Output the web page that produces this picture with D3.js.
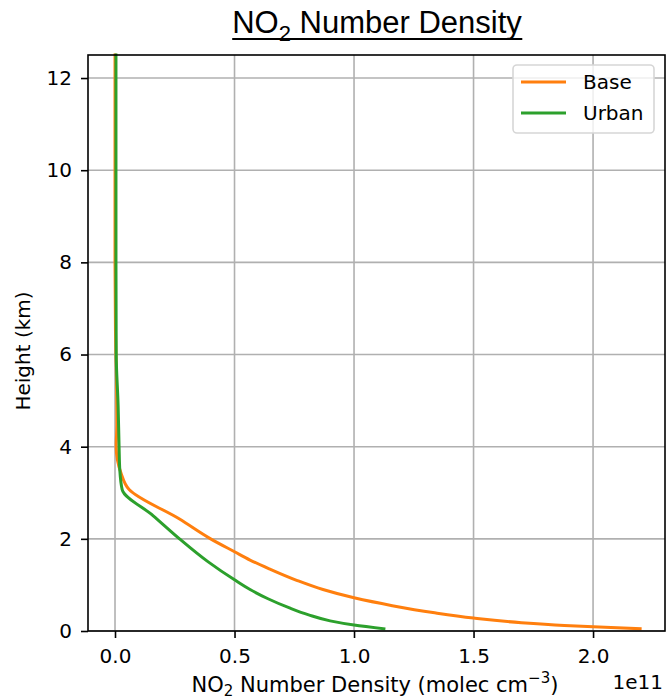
<!DOCTYPE html>
<html>
<head>
<meta charset="utf-8">
<script src="https://cdn.jsdelivr.net/npm/d3@7"></script>
<style>
body { margin: 0; background: #fff; }
text { font-family: "DejaVu Sans", sans-serif; }
</style>
</head>
<body>
<script>
// heights in km, number density in units of 1e11 molec cm-3
var baseHeight = [0.05, 0.08, 0.12, 0.18, 0.28, 0.40, 0.55, 0.72, 0.90, 1.10, 1.35, 1.54, 1.72, 2.0, 2.43, 3.07, 3.43, 4.0, 4.5, 5.5, 6.5, 8.0, 10.0, 12.5];
var baseValue  = [2.197, 2.05, 1.88, 1.70, 1.50, 1.33, 1.16, 1.00, 0.87, 0.76, 0.645, 0.565, 0.50, 0.40, 0.27, 0.059, 0.025, 0.005, 0.008, 0.006, 0.002, 0.0, 0.0, 0.0];

var urbanHeight = [0.05, 0.13, 0.22, 0.35, 0.50, 0.70, 0.90, 1.11, 1.5, 2.0, 2.5, 3.07, 3.5, 4.0, 4.9, 6.0, 8.0, 10.0, 12.5];
var urbanValue  = [1.125, 1.0, 0.90, 0.81, 0.73, 0.64, 0.565, 0.5, 0.39, 0.27, 0.16, 0.03, 0.02, 0.017, 0.013, 0.005, 0.004, 0.004, 0.004];

var seriesNames = ["Base", "Urban"];
var xTicks = [0.0, 0.5, 1.0, 1.5, 2.0];
var yTicks = [0, 2, 4, 6, 8, 10, 12];

var width = 666, height = 699;
// plot box (window.top is reserved, so use m* names)
var mLeft = 88, mRight = 665, mTop = 55, mBottom = 631;
var colors = {Base: "#ff7f0e", Urban: "#2ca02c"};

var svg = d3.select("body").append("svg")
    .attr("width", width)
    .attr("height", height);

var x = d3.scaleLinear().domain([-0.113, 2.301]).range([mLeft, mRight]);
var y = d3.scaleLinear().domain([0, 12.5]).range([mBottom, mTop]);

// grid
svg.append("g").selectAll("line")
    .data(xTicks).enter().append("line")
    .attr("x1", function(d) { return x(d); })
    .attr("x2", function(d) { return x(d); })
    .attr("y1", mTop).attr("y2", mBottom)
    .attr("stroke", "#b0b0b0").attr("stroke-width", 1.6);
svg.append("g").selectAll("line")
    .data(yTicks).enter().append("line")
    .attr("y1", function(d) { return y(d); })
    .attr("y2", function(d) { return y(d); })
    .attr("x1", mLeft).attr("x2", mRight)
    .attr("stroke", "#b0b0b0").attr("stroke-width", 1.6);

// profiles
var line = d3.line()
    .x(function(d) { return x(d[1]); })
    .y(function(d) { return y(d[0]); })
    .curve(d3.curveMonotoneY);

var series = [
    {name: "Base", pts: d3.zip(baseHeight, baseValue)},
    {name: "Urban", pts: d3.zip(urbanHeight, urbanValue)}
];

svg.selectAll(".profile")
    .data(series).enter().append("path")
    .attr("class", "profile")
    .attr("d", function(d) { return line(d.pts); })
    .attr("fill", "none")
    .attr("stroke", function(d) { return colors[d.name]; })
    .attr("stroke-width", 3)
    .attr("stroke-linejoin", "round")
    .attr("stroke-linecap", "square");

// axes
var xAxis = d3.axisBottom(x)
    .tickValues(xTicks)
    .tickFormat(d3.format(".1f"))
    .tickSize(7).tickSizeOuter(0).tickPadding(11);
var yAxis = d3.axisLeft(y)
    .tickValues(yTicks)
    .tickSize(7).tickSizeOuter(0).tickPadding(9);

var gx = svg.append("g").attr("transform", "translate(0," + mBottom + ")").call(xAxis);
var gy = svg.append("g").attr("transform", "translate(" + mLeft + ",0)").call(yAxis);
[gx, gy].forEach(function(g) {
    g.select(".domain").remove();
    g.selectAll(".tick line").attr("stroke", "#000").attr("stroke-width", 1.6);
    g.selectAll(".tick text")
        .attr("fill", "#000")
        .style("font-family", "DejaVu Sans")
        .style("font-size", "20px");
});

// spines
svg.append("rect")
    .attr("x", mLeft).attr("y", mTop)
    .attr("width", mRight - mLeft).attr("height", mBottom - mTop)
    .attr("fill", "none").attr("stroke", "#000").attr("stroke-width", 1.6);

// legend
var lg = svg.append("g");
lg.append("rect")
    .attr("x", 513).attr("y", 65).attr("width", 141).attr("height", 68)
    .attr("rx", 4)
    .attr("fill", "#fff").attr("fill-opacity", 0.8)
    .attr("stroke", "#d6d6d6").attr("stroke-width", 1.6);
seriesNames.forEach(function(n, i) {
    var ly = 82 + i * 31;
    lg.append("line")
        .attr("x1", 521).attr("x2", 566)
        .attr("y1", ly).attr("y2", ly)
        .attr("stroke", colors[n]).attr("stroke-width", 3);
    lg.append("text")
        .attr("x", 583).attr("y", ly + 7)
        .style("font-size", "20px")
        .text(n);
});

// axis labels
var xl = svg.append("text")
    .attr("x", 375).attr("y", 692)
    .attr("text-anchor", "middle")
    .style("font-size", "21px");
xl.append("tspan").text("NO");
xl.append("tspan").attr("dy", 4).style("font-size", "15px").text("2");
xl.append("tspan").attr("dy", -4).text(" Number Density (molec cm");
xl.append("tspan").attr("dy", -9).style("font-size", "15px").text("\u22123");
xl.append("tspan").attr("dy", 9).text(")");

svg.append("text")
    .attr("x", 663).attr("y", 689)
    .attr("text-anchor", "end")
    .style("font-size", "20px")
    .text("1e11");

svg.append("text")
    .attr("transform", "translate(30,351) rotate(-90)")
    .attr("text-anchor", "middle")
    .style("font-size", "20px")
    .text("Height (km)");

// title
var title = svg.append("text")
    .attr("x", 377).attr("y", 33)
    .attr("text-anchor", "middle")
    .style("font-family", "'Liberation Sans', Arial, sans-serif")
    .style("font-size", "31px");
title.append("tspan").text("NO");
title.append("tspan").attr("dy", 8).style("font-size", "22px").text("2");
title.append("tspan").attr("dy", -8).text(" Number Density");
var tb = title.node().getBBox();
svg.append("line")
    .attr("x1", tb.x).attr("x2", tb.x + tb.width)
    .attr("y1", 39).attr("y2", 39)
    .attr("stroke", "#000").attr("stroke-width", 2);
</script>
</body>
</html>
